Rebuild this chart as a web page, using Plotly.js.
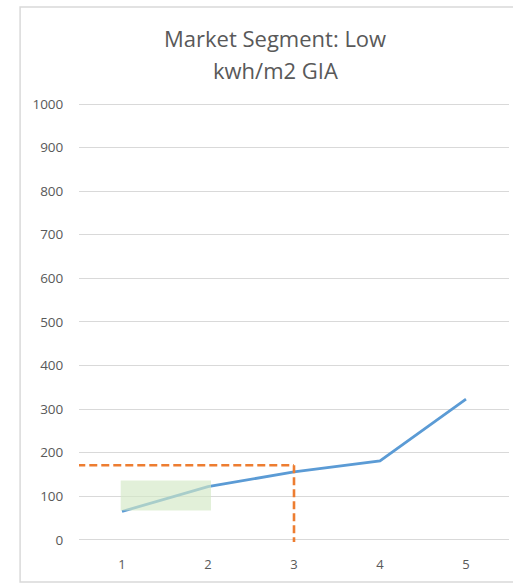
<!DOCTYPE html>
<html>
<head>
<meta charset="utf-8">
<script src="https://cdn.plot.ly/plotly-3.0.1.min.js"></script>
<style>
html,body{margin:0;padding:0;background:#fff;}
#chart{width:513px;height:583px;}
</style>
</head>
<body>
<div id="chart"></div>
<script>
// Data
const categories = ['1', '2', '3', '4', '5'];
const values = [65, 122, 156, 181, 323];
const yTicks = [0, 100, 200, 300, 400, 500, 600, 700, 800, 900, 1000];
const titleLines = ['Market Segment: Low', 'kwh/m2 GIA'];
const targetValue = 171;      // orange dashed horizontal level
const targetCategory = 2;     // index of category '3' for the vertical marker
const bandCategories = [-0.015, 1.035]; // green band x extent (category index units)
const bandValues = [67, 136];  // green band y extent

const trace = {
  x: categories.map((c, i) => i),
  y: values,
  type: 'scatter',
  mode: 'lines',
  line: {color: '#5b9bd5', width: 2.8},
  hoverinfo: 'x+y'
};

const titleFont = {size: 22, color: '#595959', family: '"Open Sans", sans-serif'};

// plot area: 0 -> 540px, 1000 -> 104px (0.436 px per unit)
const layout = {
  width: 513, height: 583,
  margin: {l: 79, r: 4, t: 100, b: 41},
  paper_bgcolor: '#ffffff',
  plot_bgcolor: '#ffffff',
  showlegend: false,
  font: {family: '"Open Sans", "Liberation Sans", sans-serif', color: '#595959'},
  xaxis: {
    type: 'linear',
    range: [-0.5, 4.5],
    tickvals: categories.map((c, i) => i),
    ticktext: categories,
    showgrid: false, zeroline: false, showline: false,
    ticks: 'outside', ticklen: 10, tickcolor: 'rgba(0,0,0,0)',
    tickfont: {size: 13, color: '#595959'},
    fixedrange: true
  },
  yaxis: {
    range: [-5, 1009.2],
    tickvals: yTicks,
    ticktext: yTicks.map(String),
    showgrid: true, gridcolor: '#d9d9d9', gridwidth: 1,
    zeroline: false, showline: false,
    ticks: 'outside', ticklen: 12, tickcolor: 'rgba(0,0,0,0)',
    tickfont: {size: 13.5, color: '#595959'},
    fixedrange: true
  },
  annotations: [
    {text: titleLines[0], xref: 'paper', yref: 'paper', x: 0, y: 0,
     xanchor: 'center', yanchor: 'middle', showarrow: false, font: titleFont},
    {text: titleLines[1], xref: 'paper', yref: 'paper', x: 0, y: 0,
     xanchor: 'center', yanchor: 'middle', showarrow: false, font: titleFont}
  ],
  shapes: [
    // chart border
    {type: 'rect', xref: 'paper', yref: 'paper', x0: -0.137, x1: 1.2, y0: -0.091, y1: 1.21,
     line: {color: '#d9d9d9', width: 1.5}, fillcolor: 'rgba(0,0,0,0)', layer: 'below'},
    // green band
    {type: 'rect', xref: 'x', yref: 'y', x0: bandCategories[0], x1: bandCategories[1],
     y0: bandValues[0], y1: bandValues[1],
     fillcolor: 'rgba(210,232,196,0.65)', line: {width: 0}, layer: 'above'},
    // orange horizontal dashed
    {type: 'line', xref: 'x', yref: 'y', x0: -0.52, x1: targetCategory, y0: targetValue, y1: targetValue,
     line: {color: '#ed7d31', width: 2.6, dash: '8px,4px'}},
    // orange vertical dashed
    {type: 'line', xref: 'x', yref: 'y', x0: targetCategory, x1: targetCategory, y0: targetValue, y1: -5,
     line: {color: '#ed7d31', width: 2.6, dash: '8px,4px'}}
  ]
};
// title lines centred on the chart frame (x≈275px), at y≈38px and y≈70px
const plotTop = 100, plotH = 583 - 100 - 41;
const titleY = [38, 70];
layout.annotations.forEach((a, i) => {
  a.x = (275 - 79) / 430;
  a.y = (plotTop + plotH - titleY[i]) / plotH;
});
layout.shapes[0].y1 = (plotTop + plotH - 7) / plotH;
layout.shapes[0].y0 = (plotTop + plotH - 582) / plotH;

Plotly.newPlot('chart', [trace], layout, {displayModeBar: false, staticPlot: true});
</script>
</body>
</html>
